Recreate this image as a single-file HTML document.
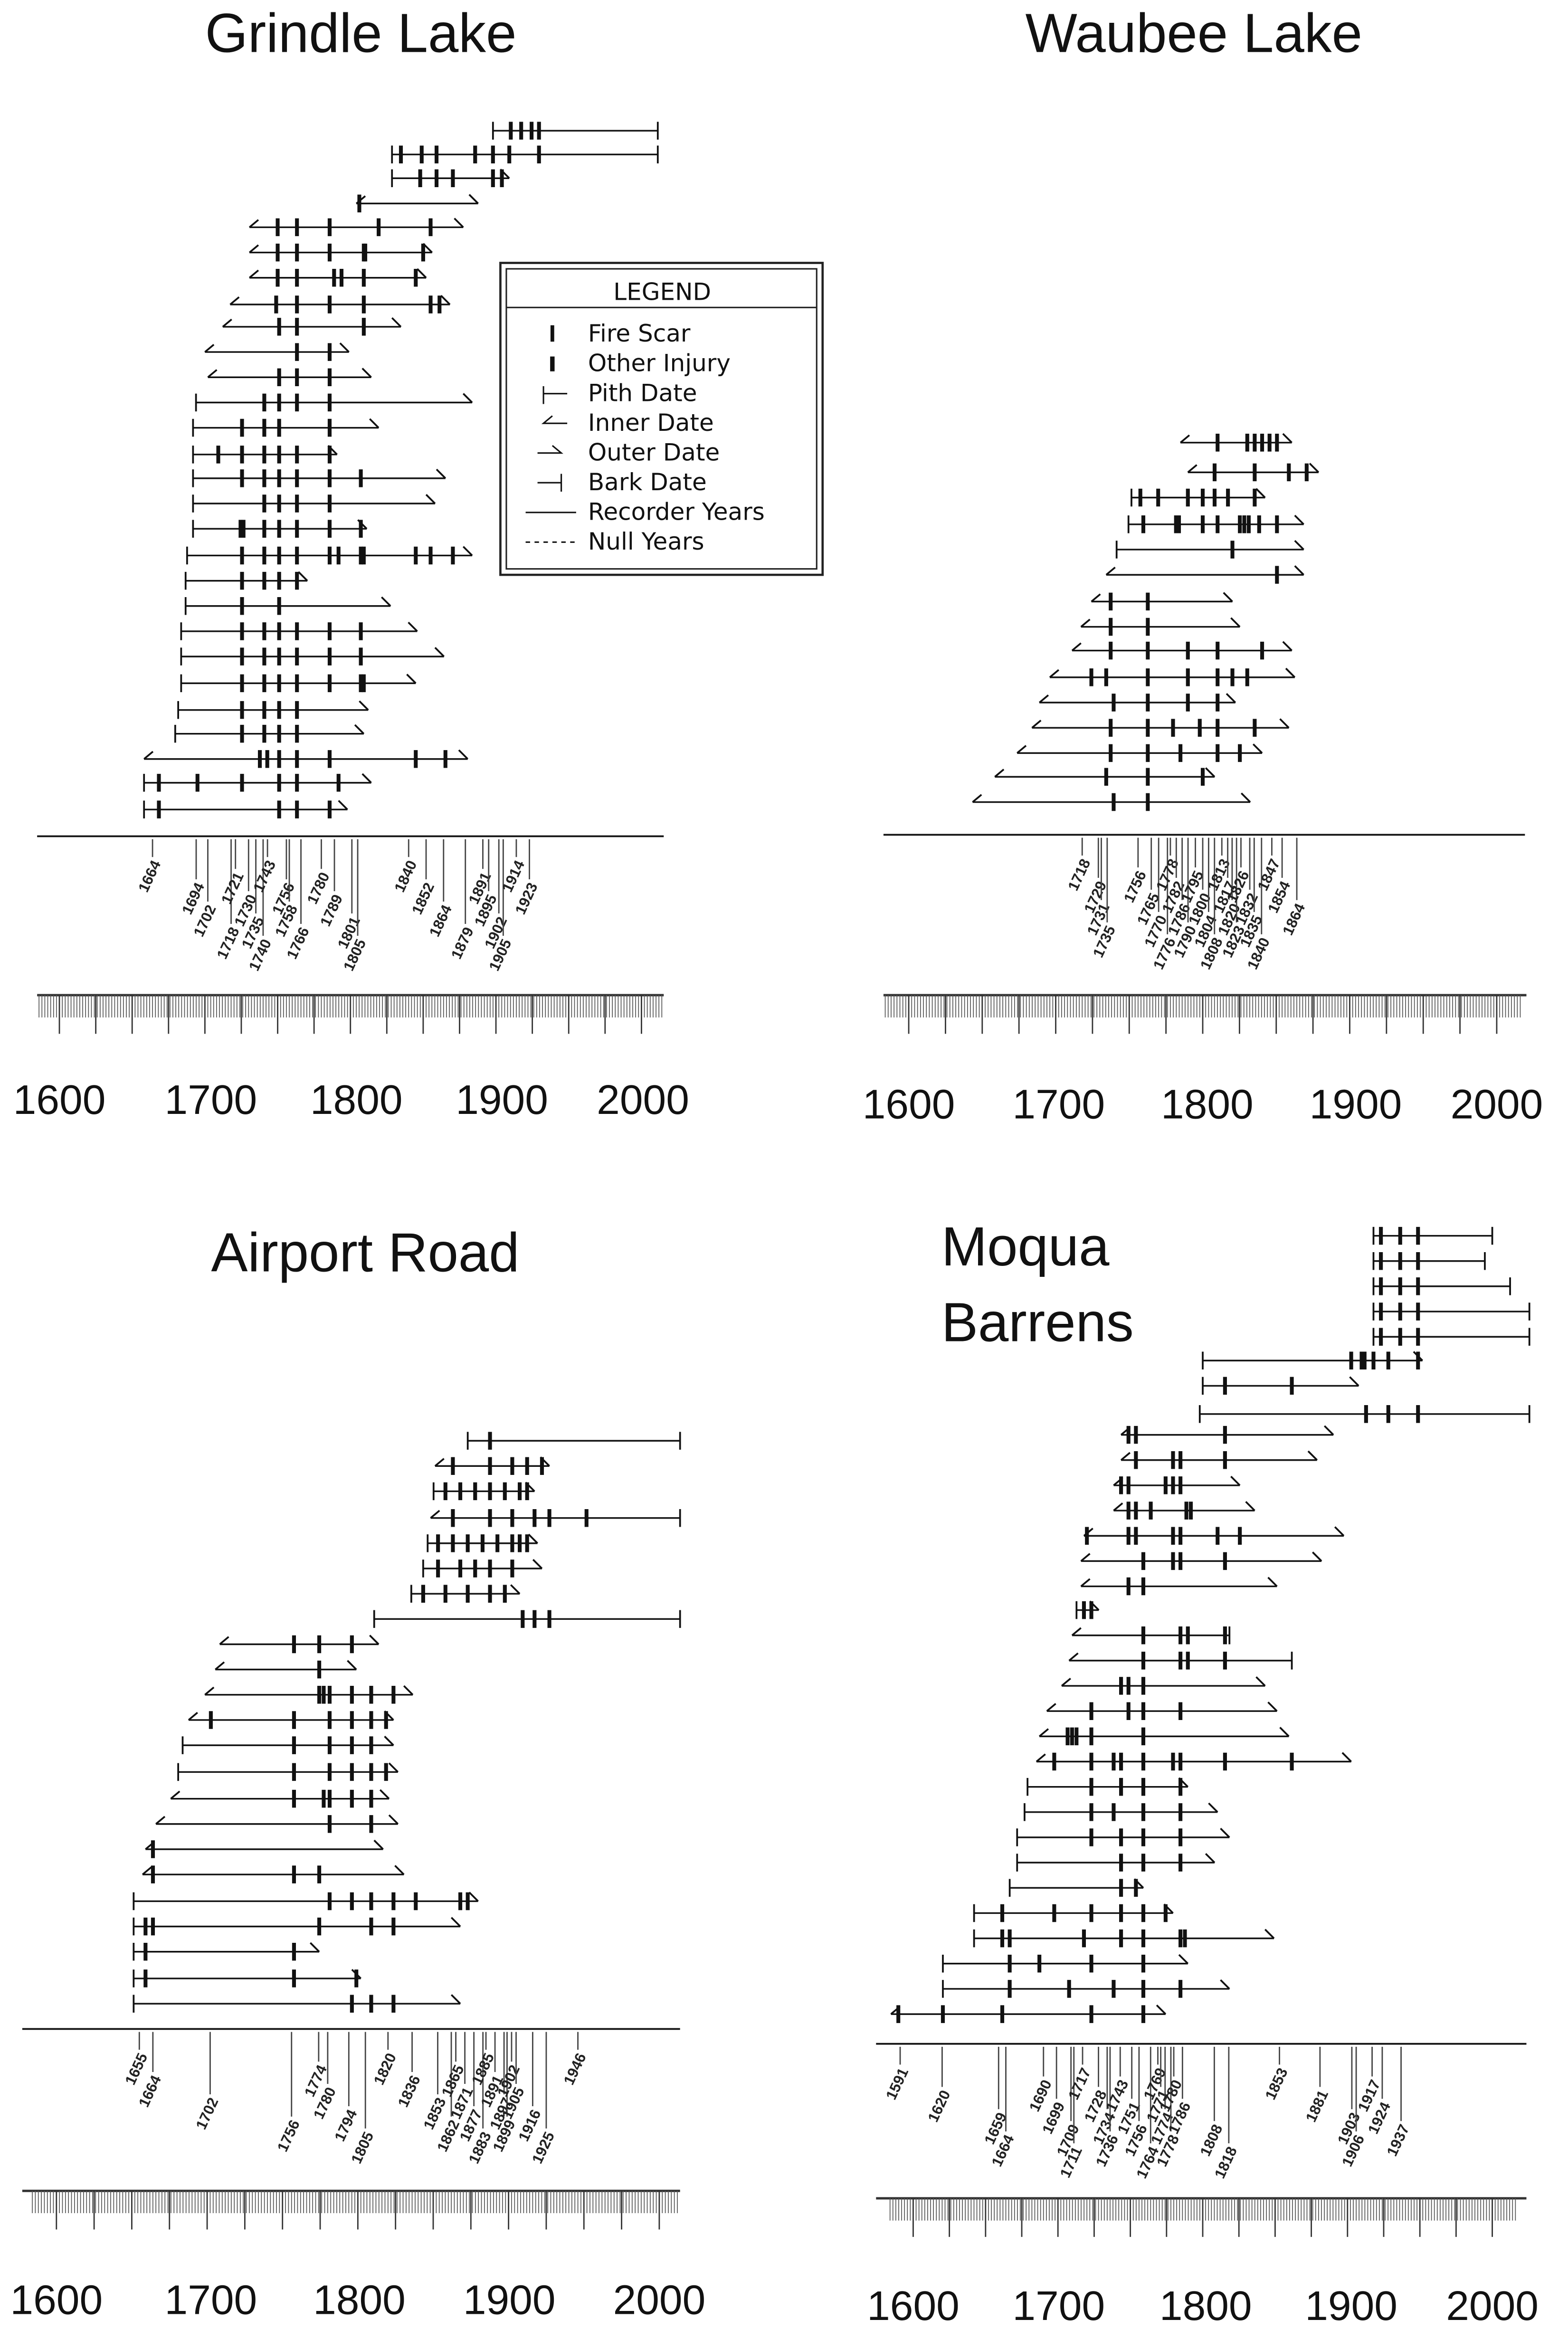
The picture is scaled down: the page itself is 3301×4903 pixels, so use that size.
<!DOCTYPE html>
<html><head><meta charset="utf-8"><style>
html,body{margin:0;padding:0;background:#fff;}
svg{display:block;}
text{font-family:"Liberation Sans",sans-serif;fill:#111;}
.t{font-size:37px;}
.yr{font-size:28px;fill:#444;}
.lg{font-family:"DejaVu Sans","Liberation Sans",sans-serif;font-size:16px;}
.dl{font-size:10px;font-weight:bold;fill:#222;}
</style></head><body>
<svg id="s" xmlns="http://www.w3.org/2000/svg" width="3301" height="4903" viewBox="0 0 1056 1568" preserveAspectRatio="none">
<rect width="1056" height="1568" fill="#fff"/>
<text class="t" x="243" y="35" text-anchor="middle">Grindle Lake</text>
<text class="t" x="804" y="35" text-anchor="middle">Waubee Lake</text>
<text class="t" x="246" y="856" text-anchor="middle">Airport Road</text>
<text class="t" x="634" y="852">Moqua</text>
<text class="t" x="634" y="903">Barrens</text>
<g class="yr">
<text x="40" y="750" text-anchor="middle">1600</text><text x="142" y="750" text-anchor="middle">1700</text><text x="240" y="750" text-anchor="middle">1800</text><text x="338" y="750" text-anchor="middle">1900</text><text x="433" y="750" text-anchor="middle">2000</text>
<text x="612" y="753" text-anchor="middle">1600</text><text x="713" y="753" text-anchor="middle">1700</text><text x="813" y="753" text-anchor="middle">1800</text><text x="913" y="753" text-anchor="middle">1900</text><text x="1008" y="753" text-anchor="middle">2000</text>
<text x="38" y="1558" text-anchor="middle">1600</text><text x="142" y="1558" text-anchor="middle">1700</text><text x="242" y="1558" text-anchor="middle">1800</text><text x="343" y="1558" text-anchor="middle">1900</text><text x="444" y="1558" text-anchor="middle">2000</text>
<text x="615" y="1562" text-anchor="middle">1600</text><text x="713" y="1562" text-anchor="middle">1700</text><text x="812" y="1562" text-anchor="middle">1800</text><text x="910" y="1562" text-anchor="middle">1900</text><text x="1005" y="1562" text-anchor="middle">2000</text>
</g>
<g>
<rect x="337" y="177" width="217" height="210" fill="#fff" stroke="#222" stroke-width="1.5"/>
<rect x="341" y="181" width="209" height="202" fill="none" stroke="#222" stroke-width="1"/>
<line x1="341" y1="207" x2="550" y2="207" stroke="#222" stroke-width="1"/>
<text class="lg" x="446" y="202" text-anchor="middle">LEGEND</text>
<text class="lg" x="396" y="230">Fire Scar</text>
<text class="lg" x="396" y="250">Other Injury</text>
<text class="lg" x="396" y="270">Pith Date</text>
<text class="lg" x="396" y="290">Inner Date</text>
<text class="lg" x="396" y="310">Outer Date</text>
<text class="lg" x="396" y="330">Bark Date</text>
<text class="lg" x="396" y="350">Recorder Years</text>
<text class="lg" x="396" y="370">Null Years</text>
<g stroke="#111" fill="none">
<line x1="372" y1="219" x2="372" y2="230" stroke-width="2.5"/>
<line x1="372" y1="240" x2="372" y2="250" stroke-width="3"/>
<line x1="366" y1="260" x2="366" y2="272"/><line x1="366" y1="265" x2="382" y2="265"/>
<path d="M372 280 L366 285 L382 285"/>
<path d="M362 305 L378 305 L372 300"/>
<line x1="378" y1="319" x2="378" y2="331"/><line x1="362" y1="325" x2="378" y2="325"/>
<line x1="354" y1="345" x2="388" y2="345"/>
<line x1="354" y1="365" x2="388" y2="365" stroke-dasharray="3,3"/>
</g>
</g>
</svg>
<script>
var s=document.getElementById('s'),NS='http://www.w3.org/2000/svg';
function el(n,a,t){var e=document.createElementNS(NS,n);for(var k in a)e.setAttribute(k,a[k]);if(t)e.textContent=t;s.appendChild(e);return e;}
function L(x1,y1,x2,y2,w,c){el('line',{x1:x1,y1:y1,x2:x2,y2:y2,stroke:c||'#111','stroke-width':w||1});}
function rows(R){R.forEach(function(r){var y=r[0],a=r[1],b=r[2],st=r[3],en=r[4];
 L(a,y,b,y,1.1);
 if(st=='p')L(a,y-6,a,y+6,1.2);else el('path',{d:'M'+(a+6)+' '+(y-5)+' L'+a+' '+y,stroke:'#111',fill:'none','stroke-width':1.2});
 if(en=='b')L(b,y-6,b,y+6,1.2);else el('path',{d:'M'+(b-6)+' '+(y-6)+' L'+b+' '+y,stroke:'#111',fill:'none','stroke-width':1.2});
 r[5].forEach(function(x){L(x,y-6,x,y+6,2.6);});});}
function base(x1,x2,y,yr,sc,labels){L(x1,y,x2,y,1.2);
 labels.forEach(function(v,i){var x=yr(v),len=14+(i%4)*15+((i>>2)%2)*8;L(x,y+2,x,y+len,0.9,'#444');
  var ly=y+len+3;el('text',{'class':'dl',x:x+3,y:ly,transform:'rotate(-65 '+(x+3)+' '+ly+')','text-anchor':'end',dy:'3'},String(v));});}
function ruler(x1,x2,y,yr){L(x1,y,x2,y,1.6,'#333');
 for(var v=1584;v<=2016;v+=2){var x=yr(v);if(x<x1||x>x2)continue;L(x,y,x,y+15,0.55,'#555');}
 for(var v=1600;v<=2000;v+=25){var x=yr(v);L(x,y,x,y+26,0.9,'#333');}}
var g=function(v){return 40+(v-1600)*0.98;};
rows([[88,332,443,'p','b',[344,351,358,363]],[104,264,443,'p','b',[270,284,294,320,332,343,363]],[120,264,343,'p','o',[283,294,305,332,338]],[137,240,322,'i','o',[242]],
[153,168,312,'i','o',[187,200,222,255,290]],[170,168,291,'i','o',[187,200,222,245,246,285]],[187,168,287,'i','o',[187,200,225,230,245,280]],[205,155,303,'i','o',[186,200,222,245,290,296]],
[220,150,270,'i','o',[188,200,245]],[237,138,235,'i','o',[200,222]],[254,140,250,'i','o',[188,200,222]],[271,132,318,'p','o',[178,188,200,222]],
[288,130,255,'p','o',[163,178,188,222]],[306,130,227,'p','o',[147,163,178,188,200,222]],[322,130,300,'p','o',[163,178,188,200,222,243]],[339,130,293,'p','o',[178,188,200,222]],
[356,130,247,'p','o',[162,164,178,188,200,222,243]],[374,126,318,'p','o',[163,178,188,200,222,228,243,245,280,290,305]],[391,125,207,'p','o',[163,178,188,200]],[408,125,263,'p','o',[163,188]],
[425,122,281,'p','o',[163,178,188,200,222,243]],[442,122,299,'p','o',[163,178,188,200,222,243]],[460,122,280,'p','o',[163,178,188,200,222,243,245]],[478,120,248,'p','o',[163,178,188,200]],
[494,118,245,'p','o',[163,178,188,200]],[511,97,315,'i','o',[175,180,188,200,222,280,300]],[527,97,250,'p','o',[107,133,163,188,200,228]],[545,97,234,'p','o',[107,188,200,222]]]);
base(25,447,563,g,0,[1664,1694,1702,1718,1721,1730,1735,1740,1743,1756,1758,1766,1780,1789,1801,1805,1840,1852,1864,1879,1891,1895,1902,1905,1914,1923]);
ruler(25,447,670,g);
var w=function(v){return 612+(v-1600)*0.99;};
rows([[298,795,870,'i','o',[820,840,845,850,855,860]],[318,800,888,'i','o',[818,845,868,880]],[335,762,852,'p','o',[768,780,800,810,818,827,845]],
[353,760,878,'p','o',[770,792,794,810,820,835,838,841,848,860]],[370,752,878,'p','o',[830]],[387,745,878,'i','o',[860]],[405,735,830,'i','o',[748,773]],
[422,728,835,'i','o',[748,773]],[438,722,870,'i','o',[748,773,800,820,850]],[456,707,872,'i','o',[735,745,773,800,820,830,840]],[473,700,832,'i','o',[750,773,800,820]],
[490,695,868,'i','o',[748,773,790,808,820,845]],[507,685,850,'i','o',[748,773,795,820,835]],[523,670,818,'i','o',[745,773,810]],[540,655,842,'i','o',[750,773]]]);
base(595,1027,562,w,0,[1718,1729,1731,1735,1756,1765,1770,1776,1778,1782,1786,1790,1795,1800,1804,1808,1813,1817,1820,1823,1826,1832,1835,1840,1847,1854,1864]);
ruler(595,1028,670,w);
var a=function(v){return 38+(v-1600)*1.015;};
rows([[970,315,458,'p','b',[330]],[987,293,370,'i','o',[305,330,345,355,365]],[1004,292,360,'p','o',[300,310,320,330,340,350,355]],[1022,290,458,'i','b',[305,330,345,360,370,395]],
[1039,288,362,'p','o',[295,305,315,325,335,345,350,355]],[1056,285,365,'p','o',[295,310,320,330,345]],[1073,277,350,'p','o',[285,300,315,330,340]],[1090,252,458,'p','b',[352,360,370]],
[1107,148,255,'i','o',[198,215,237]],[1124,145,240,'i','o',[215]],[1141,138,278,'i','o',[215,218,222,237,250,265]],[1158,127,265,'i','o',[142,198,222,237,250,260]],
[1175,123,265,'p','o',[198,222,237,250]],[1193,120,268,'p','o',[198,222,237,250,260]],[1211,115,262,'i','o',[198,218,222,237,250]],[1228,105,268,'i','o',[222,250]],
[1245,98,258,'i','o',[103]],[1262,96,272,'i','o',[103,198,215]],[1280,90,322,'p','o',[222,237,250,265,280,310,315]],[1297,90,310,'p','o',[98,103,215,250,265]],
[1314,90,215,'p','o',[98,198]],[1332,90,243,'p','o',[98,198,240]],[1349,90,310,'p','o',[237,250,265]]]);
base(15,458,1366,a,0,[1655,1664,1702,1756,1774,1780,1794,1805,1820,1836,1853,1862,1865,1871,1877,1883,1885,1891,1897,1899,1902,1905,1916,1925,1946]);
ruler(15,458,1475,a);
var m=function(v){return 615+(v-1600)*0.975;};
rows([[832,925,1005,'p','b',[930,943,955]],[849,925,1000,'p','b',[930,943,955]],[866,925,1017,'p','b',[930,943,955]],[883,925,1030,'p','b',[930,943,955]],[900,925,1030,'p','b',[930,943,955]],
[916,810,958,'p','o',[910,917,919,925,935,955]],[933,810,915,'p','o',[825,870]],[952,808,1030,'p','b',[920,935,955]],[966,755,898,'i','o',[760,765,825]],
[983,755,887,'i','o',[765,790,795,825]],[1000,750,835,'i','o',[755,760,785,790,795]],[1017,750,845,'i','o',[760,765,775,799,802]],[1034,730,905,'i','o',[732,760,765,790,795,820,835]],
[1051,728,890,'i','o',[770,790,795,825]],[1068,728,860,'i','o',[760,770]],[1084,725,740,'p','o',[730,735]],[1101,722,828,'i','b',[770,795,800,825]],
[1118,720,870,'i','b',[770,795,800,825]],[1135,715,852,'i','o',[755,760,770]],[1152,705,860,'i','o',[735,760,770,795]],[1169,700,868,'i','o',[719,722,725,735,770]],
[1186,698,910,'i','o',[710,735,750,755,770,790,795,825,870]],[1203,692,800,'p','o',[735,755,770,795]],[1220,690,820,'p','o',[735,750,770,795]],[1237,685,828,'p','o',[735,755,770,795]],
[1254,685,818,'p','o',[755,770,795]],[1271,680,770,'p','o',[755,765]],[1288,656,790,'p','o',[675,710,735,755,770,785]],[1305,656,858,'p','o',[675,680,730,755,770,795,798]],
[1322,635,800,'p','o',[680,700,735,770]],[1339,635,828,'p','o',[680,720,750,770,795]],[1356,600,785,'i','o',[605,635,675,735,770]]]);
base(590,1028,1376,m,0,[1591,1620,1659,1664,1690,1699,1709,1711,1717,1728,1734,1736,1743,1751,1756,1764,1769,1771,1774,1778,1780,1786,1808,1818,1853,1881,1903,1906,1917,1924,1937]);
ruler(590,1028,1480,m);
</script>
</body></html>
